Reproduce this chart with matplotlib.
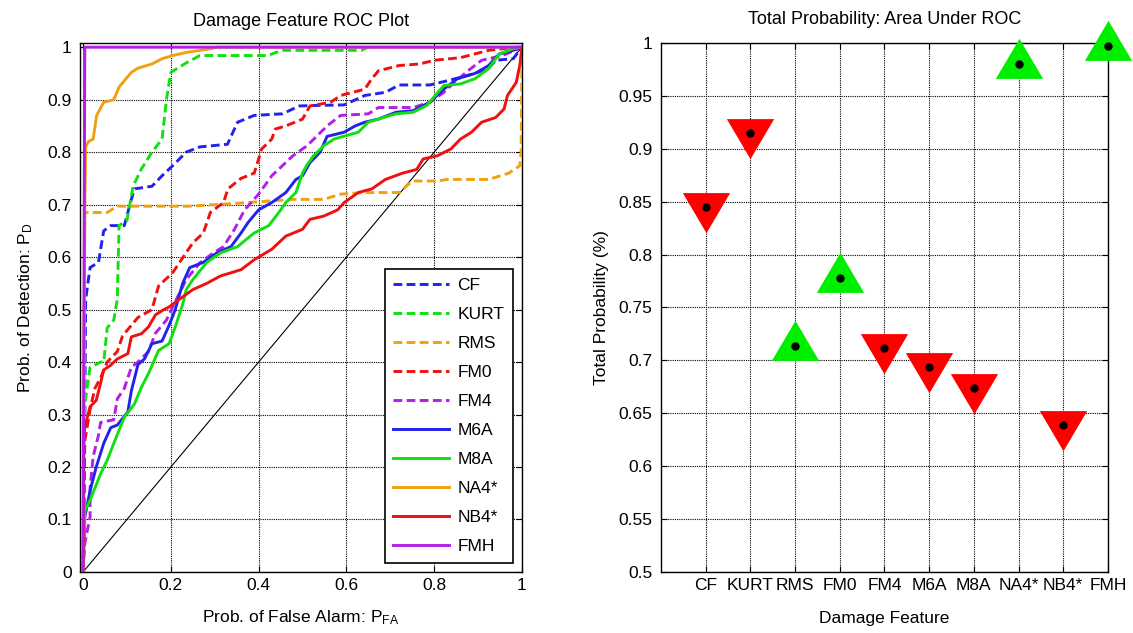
import numpy as np
import matplotlib
matplotlib.use("Agg")
import matplotlib.pyplot as plt

plt.rcParams['font.family'] = ['Liberation Sans', 'DejaVu Sans']
plt.rcParams['mathtext.default'] = 'regular'
plt.rcParams['font.size'] = 12.5

# ROC curves (false alarm, detection)
cf_x = [0, 0.004, 0.006, 0.016, 0.035, 0.047, 0.063, 0.094, 0.11, 0.117, 0.157, 0.18, 0.204, 0.235, 0.266,
        0.329, 0.352, 0.39, 0.454, 0.493, 0.532, 0.595, 0.642, 0.689, 0.72, 0.79, 0.83, 0.893, 0.924, 0.94,
        0.98, 1.0]
cf_y = [0, 0.3, 0.52, 0.58, 0.59, 0.65, 0.66, 0.66, 0.71, 0.73, 0.735, 0.755, 0.774, 0.80, 0.81,
        0.815, 0.857, 0.87, 0.873, 0.888, 0.889, 0.89, 0.908, 0.914, 0.928, 0.928, 0.936, 0.95, 0.96, 0.975,
        0.978, 1.0]

kurt_x = [0, 0.004, 0.016, 0.04, 0.047, 0.055, 0.07, 0.078, 0.082, 0.10, 0.114, 0.133, 0.157, 0.18, 0.19,
          0.20, 0.235, 0.266, 0.42, 0.454, 0.634, 0.65]
kurt_y = [0, 0.32, 0.39, 0.40, 0.40, 0.465, 0.48, 0.52, 0.66, 0.67, 0.735, 0.768, 0.80, 0.825, 0.90,
          0.952, 0.97, 0.984, 0.984, 0.994, 0.994, 1.0]

rms_x = [0, 0.004, 0.055, 0.078, 0.243, 0.36, 0.478, 0.548, 0.587, 0.642, 0.72, 0.75, 0.807, 0.83, 0.924,
         0.97, 0.995, 0.998, 1.0]
rms_y = [0, 0.685, 0.685, 0.697, 0.697, 0.703, 0.71, 0.71, 0.72, 0.723, 0.723, 0.745, 0.745, 0.748, 0.748,
         0.76, 0.774, 0.80, 1.0]

fm0_x = [0, 0.004, 0.016, 0.027, 0.04, 0.055, 0.078, 0.09, 0.11, 0.125, 0.157, 0.172, 0.204, 0.22, 0.25,
         0.274, 0.29, 0.32, 0.33, 0.36, 0.39, 0.407, 0.43, 0.438, 0.462, 0.50, 0.517, 0.564, 0.587, 0.642,
         0.658, 0.673, 0.72, 0.767, 0.80, 0.86, 0.924, 0.987, 1.0]
fm0_y = [0, 0.25, 0.31, 0.35, 0.37, 0.40, 0.42, 0.45, 0.47, 0.485, 0.50, 0.545, 0.57, 0.59, 0.627,
         0.646, 0.685, 0.704, 0.73, 0.75, 0.76, 0.806, 0.825, 0.844, 0.85, 0.863, 0.888, 0.895, 0.908, 0.92,
         0.94, 0.955, 0.965, 0.968, 0.975, 0.98, 0.994, 1.0, 1.0]

fm4_x = [0, 0.004, 0.016, 0.016, 0.023, 0.035, 0.04, 0.07, 0.078, 0.094, 0.11, 0.125, 0.149, 0.165, 0.19,
         0.204, 0.235, 0.266, 0.297, 0.32, 0.345, 0.368, 0.40, 0.43, 0.454, 0.478, 0.51, 0.532, 0.556, 0.587,
         0.65, 0.673, 0.752, 0.79, 0.822, 0.846, 0.877, 0.908, 0.955, 1.0]
fm4_y = [0, 0.055, 0.105, 0.16, 0.22, 0.26, 0.285, 0.29, 0.33, 0.35, 0.39, 0.40, 0.42, 0.455, 0.48,
         0.505, 0.557, 0.589, 0.608, 0.62, 0.653, 0.69, 0.72, 0.755, 0.774, 0.793, 0.812, 0.83, 0.85, 0.87,
         0.873, 0.885, 0.885, 0.895, 0.914, 0.933, 0.955, 0.975, 0.984, 1.0]

m6a_x = [0, 0.004, 0.016, 0.03, 0.047, 0.063, 0.078, 0.102, 0.11, 0.125, 0.14, 0.157, 0.18, 0.196, 0.21,
         0.227, 0.243, 0.274, 0.305, 0.337, 0.36, 0.376, 0.40, 0.43, 0.462, 0.485, 0.50, 0.517, 0.54, 0.556,
         0.595, 0.62, 0.642, 0.673, 0.713, 0.752, 0.79, 0.822, 0.853, 0.893, 0.924, 0.948, 0.98, 1.0]
m6a_y = [0, 0.105, 0.155, 0.20, 0.245, 0.275, 0.28, 0.305, 0.345, 0.395, 0.406, 0.435, 0.44, 0.47, 0.50,
         0.55, 0.58, 0.59, 0.608, 0.62, 0.646, 0.666, 0.69, 0.704, 0.723, 0.748, 0.755, 0.78, 0.80, 0.83,
         0.838, 0.85, 0.857, 0.863, 0.876, 0.879, 0.895, 0.92, 0.94, 0.95, 0.965, 0.987, 0.994, 1.0]

m8a_x = [0, 0.004, 0.016, 0.04, 0.055, 0.07, 0.094, 0.117, 0.133, 0.149, 0.172, 0.196, 0.21, 0.227, 0.235,
         0.25, 0.282, 0.313, 0.352, 0.39, 0.423, 0.446, 0.462, 0.485, 0.50, 0.509, 0.525, 0.548, 0.572, 0.627,
         0.65, 0.673, 0.713, 0.752, 0.783, 0.822, 0.86, 0.893, 0.924, 0.948, 0.98, 1.0]
m8a_y = [0, 0.117, 0.137, 0.187, 0.213, 0.245, 0.295, 0.32, 0.352, 0.378, 0.422, 0.435, 0.467, 0.51, 0.538,
         0.557, 0.59, 0.608, 0.62, 0.646, 0.66, 0.685, 0.704, 0.723, 0.76, 0.774, 0.793, 0.812, 0.825, 0.838,
         0.857, 0.863, 0.873, 0.876, 0.889, 0.927, 0.93, 0.94, 0.959, 0.987, 0.997, 1.0]

na4_x = [0, 0.004, 0.006, 0.012, 0.023, 0.031, 0.047, 0.07, 0.082, 0.094, 0.11, 0.125, 0.157, 0.18, 0.204,
         0.235, 0.29, 0.305, 1.0]
na4_y = [0, 0.70, 0.81, 0.82, 0.825, 0.87, 0.895, 0.90, 0.924, 0.936, 0.952, 0.96, 0.968, 0.978, 0.984,
         0.99, 0.997, 1.0, 1.0]

nb4_x = [0, 0.002, 0.004, 0.016, 0.03, 0.04, 0.047, 0.063, 0.078, 0.102, 0.11, 0.133, 0.149, 0.165, 0.18,
         0.196, 0.22, 0.25, 0.282, 0.313, 0.36, 0.39, 0.43, 0.462, 0.50, 0.517, 0.548, 0.58, 0.595, 0.627,
         0.658, 0.689, 0.728, 0.76, 0.775, 0.807, 0.838, 0.86, 0.885, 0.908, 0.94, 0.959, 0.967, 0.987, 0.995,
         1.0]
nb4_y = [0, 0.26, 0.276, 0.315, 0.327, 0.36, 0.385, 0.394, 0.406, 0.416, 0.448, 0.454, 0.467, 0.49, 0.498,
         0.505, 0.52, 0.538, 0.55, 0.564, 0.576, 0.595, 0.615, 0.64, 0.653, 0.672, 0.678, 0.69, 0.704, 0.723,
         0.73, 0.748, 0.76, 0.767, 0.787, 0.793, 0.806, 0.825, 0.838, 0.857, 0.866, 0.882, 0.908, 0.933, 0.965,
         1.0]

fmh_x = [0, 0.004, 1.0]
fmh_y = [0, 1.0, 1.0]

# Area under ROC per feature
features = ['CF', 'KURT', 'RMS', 'FM0', 'FM4', 'M6A', 'M8A', 'NA4*', 'NB4*', 'FMH']
auc = [0.845, 0.915, 0.714, 0.778, 0.712, 0.694, 0.674, 0.980, 0.639, 0.997]
improved = [False, False, True, True, False, False, False, True, False, True]

blue = '#2222ee'
green = '#10e010'
orange = '#f0a010'
red = '#f01010'
purple = '#b41ee6'

fig = plt.figure(figsize=(11.33, 6.33), dpi=100)
ax1 = fig.add_axes([0.0706, 0.0964, 0.3901, 0.8357])
ax2 = fig.add_axes([0.5834, 0.0964, 0.3945, 0.8357])

lw = 2.1
dash = (0, (3.0, 1.5))
curves = [
    (cf_x, cf_y, blue, dash, 'CF'),
    (kurt_x, kurt_y, green, dash, 'KURT'),
    (rms_x, rms_y, orange, dash, 'RMS'),
    (fm0_x, fm0_y, red, dash, 'FM0'),
    (fm4_x, fm4_y, purple, dash, 'FM4'),
    (m6a_x, m6a_y, blue, '-', 'M6A'),
    (m8a_x, m8a_y, green, '-', 'M8A'),
    (na4_x, na4_y, orange, '-', 'NA4*'),
    (nb4_x, nb4_y, red, '-', 'NB4*'),
    (fmh_x, fmh_y, purple, '-', 'FMH'),
]
ax1.plot([0, 1], [0, 1], color='k', lw=0.8, zorder=2)
for x, y, c, ls, name in curves:
    ax1.plot(x, y, color=c, ls=ls, lw=lw, label=name, zorder=3)

ax1.set_xlim(-0.007, 1.0)
ax1.set_ylim(0, 1.008)
ax1.set_xticks(np.arange(0, 1.01, 0.2))
ax1.set_xticklabels(['0', '0.2', '0.4', '0.6', '0.8', '1'])
ax1.set_yticks(np.arange(0, 1.01, 0.1))
ax1.set_yticklabels(['0', '0.1', '0.2', '0.3', '0.4', '0.5', '0.6', '0.7', '0.8', '0.9', '1'])
ax1.set_title('Damage Feature ROC Plot', pad=12, fontsize=13)
ax1.set_xlabel('Prob. of False Alarm: $P_{FA}$', labelpad=11)
ax1.set_ylabel('Prob. of Detection: $P_{D}$', labelpad=9)
leg = ax1.legend(loc='lower right', bbox_to_anchor=(0.98, 0.017), borderaxespad=0,
                 fancybox=False, framealpha=1, edgecolor='k', handlelength=3.2,
                 handletextpad=0.5, labelspacing=0.8, borderpad=0.5, fontsize=12.5)
leg.get_frame().set_linewidth(1.2)

# triangle markers, wider than tall, centred on the value
up_tri = [(0, 25), (-23, -14), (23, -14), (0, 25)]
down_tri = [(0, -25), (-23, 14), (23, 14), (0, -25)]
xpos = np.arange(1, len(features) + 1)
for xi, v, up in zip(xpos, auc, improved):
    ax2.plot(xi, v, marker=up_tri if up else down_tri, ms=37,
             color='#00ee00' if up else '#ff0000', mew=0, ls='none', clip_on=False, zorder=3)
ax2.plot(xpos, auc, 'o', color='k', ms=5, ls='none', clip_on=False, zorder=4)

ax2.set_xlim(0, 10)
ax2.set_ylim(0.5, 1.0)
ax2.set_xticks(xpos)
ax2.set_xticklabels(features)
ax2.set_yticks(np.arange(0.5, 1.001, 0.05))
ax2.set_yticklabels(['0.5', '0.55', '0.6', '0.65', '0.7', '0.75', '0.8', '0.85', '0.9', '0.95', '1'])
ax2.set_title('Total Probability: Area Under ROC', pad=14, fontsize=13)
ax2.set_xlabel('Damage Feature', labelpad=13)
ax2.set_ylabel('Total Probability (%)', labelpad=7)

for ax in (ax1, ax2):
    ax.grid(True, color='k', ls=(0, (1, 1)), lw=0.8)
    ax.set_axisbelow(True)
    ax.tick_params(direction='in', top=True, right=True, length=4, width=0.8)
    ax.tick_params(axis='x', pad=4)
    ax.tick_params(axis='y', pad=6)
    for s in ax.spines.values():
        s.set_linewidth(1.0)

fig.savefig('out.png', dpi=100)
